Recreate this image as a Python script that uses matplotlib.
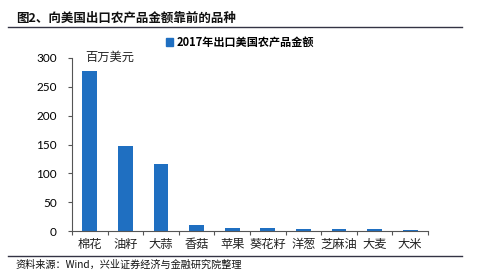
import matplotlib
matplotlib.use("Agg")
import matplotlib.pyplot as plt
from matplotlib.lines import Line2D
from matplotlib.patches import Patch

plt.rcParams['font.family'] = ['Noto Sans CJK SC', 'DejaVu Sans']

categories = ['棉花', '油籽', '大蒜', '香菇', '苹果', '葵花籽', '洋葱', '芝麻油', '大麦', '大米']
values = [278, 147, 116, 10, 5, 5, 4, 4, 3, 2]
yticks = [0, 50, 100, 150, 200, 250, 300]
series_name = '2017年出口美国农产品金额'
title = '图2、向美国出口农产品金额靠前的品种'
unit = '百万美元'
source = '资料来源：Wind，兴业证券经济与金融研究院整理'

blue = '#1f6fc1'

fig = plt.figure(figsize=(4.99, 2.72), dpi=100)
ax = fig.add_axes([72/499, 1-231/272, (428-72)/499, (231-58)/272])

x = list(range(len(categories)))
ax.bar(x, values, width=0.42, color=blue)
ax.set_xlim(-0.5, len(categories) - 0.5)
ax.set_ylim(0, 300)
ax.set_yticks(yticks)
ax.set_yticklabels([str(v) for v in yticks], fontsize=8.5, family=['Lato', 'DejaVu Sans'])
ax.set_xticks([i + 0.5 for i in x[:-1]] + [-0.5, len(categories) - 0.5], minor=False)
ax.set_xticklabels([])
ax.tick_params(axis='x', direction='out', length=3, width=0.8, color='#555555')
ax.tick_params(axis='y', direction='out', length=3, width=0.8, color='#555555', pad=8)
for i, c in enumerate(categories):
    ax.text(i, -12, c, ha='center', va='top', fontsize=8.8, color='#222222')
for s in ['top', 'right']:
    ax.spines[s].set_visible(False)
for s in ['left', 'bottom']:
    ax.spines[s].set_color('#555555')
    ax.spines[s].set_linewidth(0.8)

ax.text(0.55, 302, unit, ha='center', va='center', fontsize=8.8, color='#222222',
        transform=ax.transData)

fig.text(16/499, 1-18/272, title, ha='left', va='center', fontsize=9, fontweight='bold', color='#111111')
fig.add_artist(Line2D([8/499, 462/499], [1-27/272, 1-27/272], color='#333344', linewidth=1.0))
fig.add_artist(Line2D([8/499, 462/499], [1-256/272, 1-256/272], color='#333344', linewidth=1.0))
fig.text(15/499, 1-265/272, source, ha='left', va='center', fontsize=7.3, color='#111111')

leg = fig.legend(handles=[Patch(color=blue, label=series_name)], loc='center',
                 bbox_to_anchor=(240/499, 1-42/272), frameon=False, fontsize=8,
                 handlelength=0.7, handleheight=0.7, handletextpad=0.3)
for t in leg.get_texts():
    t.set_fontweight('bold')

fig.savefig('out.png', dpi=100)
